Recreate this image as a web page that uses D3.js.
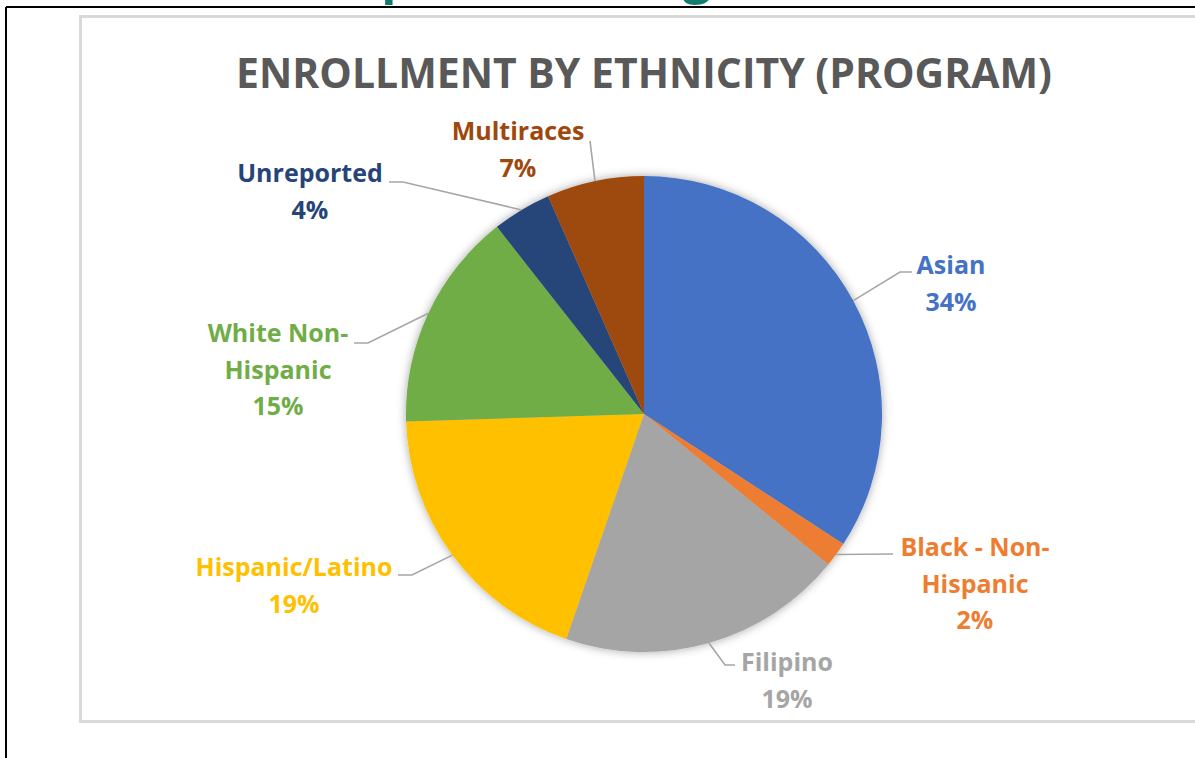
<!DOCTYPE html>
<html lang="en">
<head>
  <meta charset="UTF-8">
  <title>Enrollment by Ethnicity (Program)</title>
  <script src="https://d3js.org/d3.v7.min.js"></script>
  <style>
    body { margin: 0; background: #fff; font-family: 'Open Sans', 'DejaVu Sans', sans-serif; }
    svg { display: block; }
    .lbl { font-weight: bold; font-size: 25px; }
  </style>
</head>
<body>
  <svg width="1195" height="758"></svg>
  <script>
    // data (percent of program enrollment)
    const categories = ["Asian", "Black - Non-Hispanic", "Filipino", "Hispanic/Latino", "White Non-Hispanic", "Unreported", "Multiraces"];
    const values = [34.2, 1.7, 19.4, 19.2, 14.9, 4.0, 6.6];
    const colors = ["#4472C4", "#ED7D31", "#A5A5A5", "#FFC000", "#70AD47", "#264478", "#9E480E"];
    const title = "ENROLLMENT BY ETHNICITY (PROGRAM)";

    // label layout (line breaks, anchor, leader elbow) - like excel placed them
    const labelLines = [["Asian"], ["Black - Non-", "Hispanic"], ["Filipino"], ["Hispanic/Latino"], ["White Non-", "Hispanic"], ["Unreported"], ["Multiraces"]];
    const labelPos = [[951, 274], [975, 556], [787, 671], [294, 576], [278, 342], [310, 182], [518, 140]];
    const elbows = [[[900, 272], [912, 272]], [[893, 554]], [[725, 665], [735, 665]], [[412, 575], [398, 575]],
                    [[368, 343], [354, 343]], [[403, 182], [389, 182]], [[590, 141]]];

    const svg = d3.select("svg");
    const cx = 644, cy = 414, r = 238;

    // cut-off teal heading of the slide above
    const head = svg.append("text")
      .attr("y", -7)
      .attr("fill", "#127c6f")
      .style("font-weight", "bold")
      .style("font-size", "40px")
      .text("Snapshot of Program Enrollment");
    {
      const n = head.node();
      const p = n.getExtentOfChar(3), g = n.getExtentOfChar(15);
      const gap = (g.x + g.width / 2) - (p.x + p.width / 2);
      const fs = 40 * 300 / gap;
      head.style("font-size", fs + "px");
      const p2 = n.getExtentOfChar(3);
      head.attr("x", 397 - (p2.x + p2.width / 2));
    }

    // slide borders
    svg.append("line").attr("x1", 6).attr("y1", 7).attr("x2", 1195).attr("y2", 7)
      .attr("stroke", "#000").attr("stroke-width", 2);
    svg.append("line").attr("x1", 6).attr("y1", 7).attr("x2", 6).attr("y2", 758)
      .attr("stroke", "#000").attr("stroke-width", 2);

    // chart area frame
    svg.append("rect").attr("x", 80.5).attr("y", 16.5).attr("width", 1130).attr("height", 705)
      .attr("fill", "#fff").attr("stroke", "#D9D9D9").attr("stroke-width", 3);

    // title, fitted to its width
    const t = svg.append("text")
      .attr("x", cx).attr("y", 88)
      .attr("text-anchor", "middle")
      .attr("fill", "#595959")
      .style("font-weight", "bold")
      .style("font-size", "40px")
      .text(title);
    const tw = t.node().getComputedTextLength();
    t.style("font-size", (40 * 816 / tw) + "px");

    const defs = svg.append("defs");
    const f = defs.append("filter").attr("id", "shadow")
      .attr("x", "-20%").attr("y", "-20%").attr("width", "140%").attr("height", "140%");
    f.append("feDropShadow").attr("dx", 0).attr("dy", 0).attr("stdDeviation", 5)
      .attr("flood-color", "#000").attr("flood-opacity", 0.35);

    const total = d3.sum(values);
    const pie = d3.pie().sort(null).value(d => d)(values);
    const arc = d3.arc().innerRadius(0).outerRadius(r);

    const g = svg.append("g").attr("transform", `translate(${cx},${cy})`);
    g.append("g").attr("filter", "url(#shadow)")
      .selectAll("path")
      .data(pie)
      .join("path")
      .attr("d", arc)
      .attr("fill", (d, i) => colors[i]);

    // leader lines
    pie.forEach((d, i) => {
      const a = (d.startAngle + d.endAngle) / 2;
      const start = [cx + r * Math.sin(a), cy - r * Math.cos(a)];
      svg.append("polyline")
        .attr("points", [start, ...elbows[i]].map(p => p.join(",")).join(" "))
        .attr("fill", "none")
        .attr("stroke", "#A6A6A6")
        .attr("stroke-width", 1.6);
    });

    // data labels
    categories.forEach((c, i) => {
      const lines = labelLines[i].concat([Math.round(values[i] / total * 100) + "%"]);
      const txt = svg.append("text")
        .attr("class", "lbl")
        .attr("text-anchor", "middle")
        .attr("fill", colors[i]);
      lines.forEach((s, j) => {
        txt.append("tspan")
          .attr("x", labelPos[i][0])
          .attr("y", labelPos[i][1] + j * 36.5)
          .text(s);
      });
    });
  </script>
</body>
</html>
